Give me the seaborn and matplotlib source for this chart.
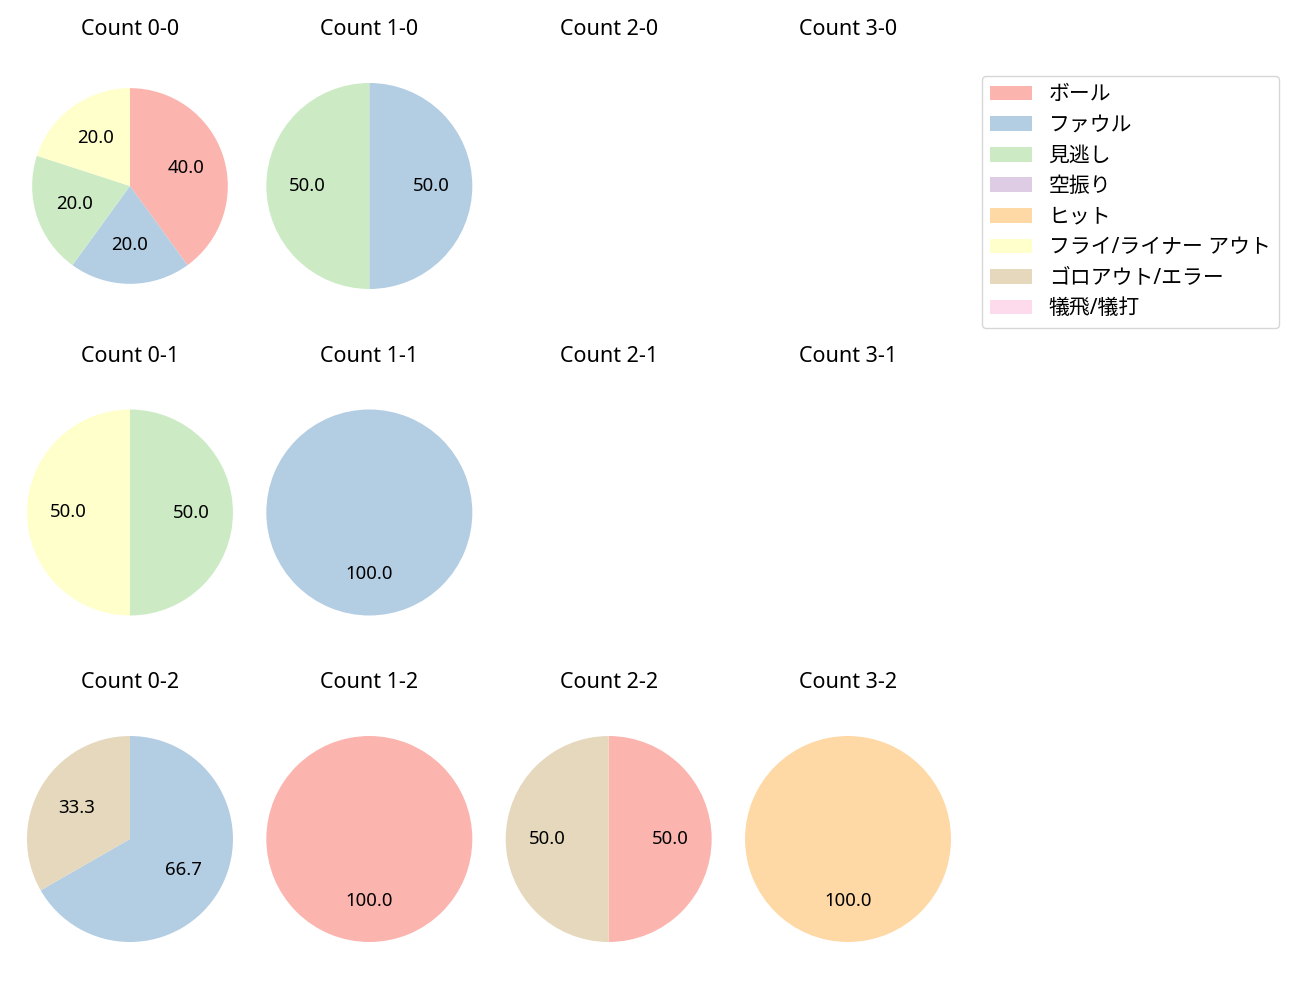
import matplotlib
matplotlib.use("Agg")
import matplotlib.pyplot as plt
from matplotlib.patches import Patch
import seaborn as sns

sns.set_theme(style="white")
plt.rcParams['font.family'] = ['Noto Sans', 'Noto Sans CJK JP', 'DejaVu Sans']
plt.rcParams['font.size'] = 12
plt.rcParams['text.color'] = 'black'

categories = ["ボール", "ファウル", "見逃し", "空振り", "ヒット",
              "フライ/ライナー アウト", "ゴロアウト/エラー", "犠飛/犠打"]

# percentages per count, in category order
count_0_0 = [40.0, 20.0, 20.0, 0, 0, 20.0, 0, 0]
count_1_0 = [0, 50.0, 50.0, 0, 0, 0, 0, 0]
count_2_0 = [0, 0, 0, 0, 0, 0, 0, 0]
count_3_0 = [0, 0, 0, 0, 0, 0, 0, 0]
count_0_1 = [0, 0, 50.0, 0, 0, 50.0, 0, 0]
count_1_1 = [0, 100.0, 0, 0, 0, 0, 0, 0]
count_2_1 = [0, 0, 0, 0, 0, 0, 0, 0]
count_3_1 = [0, 0, 0, 0, 0, 0, 0, 0]
count_0_2 = [0, 66.7, 0, 0, 0, 0, 33.3, 0]
count_1_2 = [100.0, 0, 0, 0, 0, 0, 0, 0]
count_2_2 = [50.0, 0, 0, 0, 0, 0, 50.0, 0]
count_3_2 = [0, 0, 0, 0, 100.0, 0, 0, 0]

grid = [
    [("Count 0-0", count_0_0), ("Count 1-0", count_1_0), ("Count 2-0", count_2_0), ("Count 3-0", count_3_0)],
    [("Count 0-1", count_0_1), ("Count 1-1", count_1_1), ("Count 2-1", count_2_1), ("Count 3-1", count_3_1)],
    [("Count 0-2", count_0_2), ("Count 1-2", count_1_2), ("Count 2-2", count_2_2), ("Count 3-2", count_3_2)],
]

palette = sns.color_palette("Pastel1", len(categories))

fig, axes = plt.subplots(3, 4, figsize=(13, 10), dpi=100)
fig.subplots_adjust(left=0.0128, right=0.7395, top=0.9273, bottom=0.0477,
                    wspace=0.056, hspace=0.441)

for r, row in enumerate(grid):
    for c, (title, vals) in enumerate(row):
        ax = axes[r][c]
        idx = [i for i, v in enumerate(vals) if v > 0]
        if idx:
            rad = 0.95 if (r == 0 and c == 0) else 1.0
            ax.pie([vals[i] for i in idx], colors=[palette[i] for i in idx],
                   autopct="%.1f", startangle=90, counterclock=False,
                   radius=rad, textprops={"fontsize": 13.4, "color": "black"},
                   wedgeprops={"linewidth": 0})
        ax.set_xlim(-1.1, 1.1)
        ax.set_ylim(-1.1, 1.1)
        ax.set_aspect("equal")
        ax.set_axis_off()
        ax.set_title(title, fontsize=15.5, pad=27, color="black")

handles = [Patch(facecolor=palette[i], linewidth=0, label=categories[i]) for i in range(len(categories))]
fig.legend(handles=handles, loc="upper left", bbox_to_anchor=(982 / 1300, 1 - 76 / 1000),
           borderaxespad=0, fontsize=15, handlelength=2.0, labelspacing=0.46, frameon=True)

fig.savefig("out.png", dpi=100)
